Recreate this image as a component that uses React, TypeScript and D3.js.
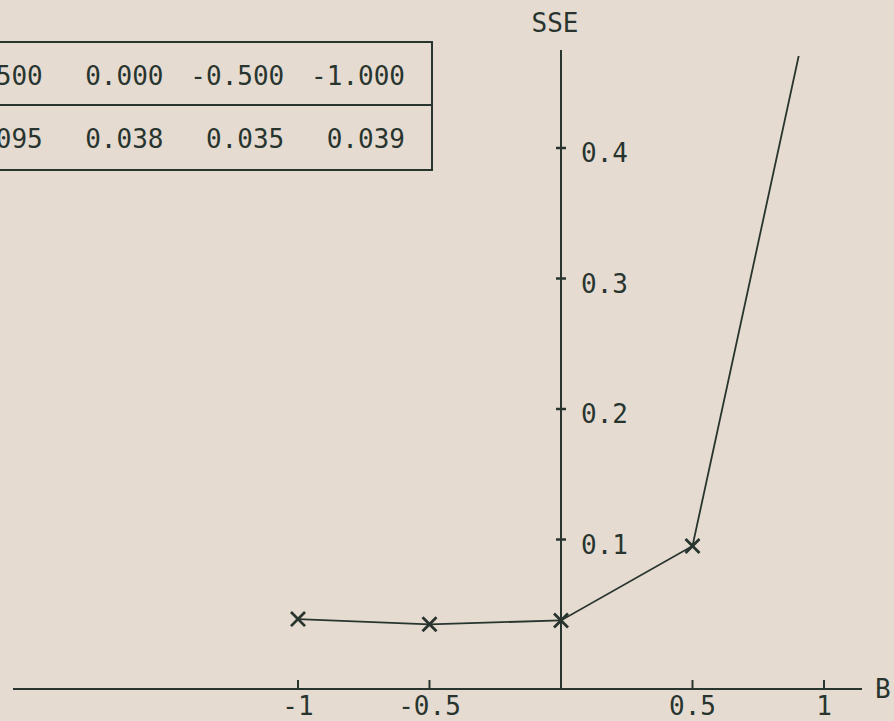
import * as d3 from "d3";

const B_VALUES = [1.0, 0.5, 0.0, -0.5, -1.0];
const SSE_VALUES = [0.56, 0.095, 0.038, 0.035, 0.039];
const X_TICKS = [-1, -0.5, 0.5, 1];
const Y_TICKS = [0.1, 0.2, 0.3, 0.4];

const W = 894;
const H = 721;
const BG = "#e6dbd1";
const INK = "#28352f";
const FONT = "'DejaVu Sans Mono', monospace";
const FS = 26;

const AXIS_Y = 689; // x axis line
const AXIS_LEFT = 13;
const AXIS_RIGHT = 862;
const Y_AXIS_TOP = 50;
const PLOT_TOP = 56; // curve leaves the frame here

// table frame
const TABLE = { top: 42, mid: 105, bottom: 170, right: 432 };

// plain hyphen instead of d3's unicode minus, like the typewriter output
const locale = d3.formatLocale({
  decimal: ".",
  thousands: ",",
  grouping: [3],
  currency: ["", ""],
  minus: "-",
});

export default function App() {
  const x = d3.scaleLinear().domain([-1, 1]).range([298, 824]);
  const y = d3.scaleLinear().domain([0, 0.4]).range([670, 148]);
  const col = d3
    .scalePoint<number>()
    .domain(d3.range(B_VALUES.length))
    .range([-78, 405]);

  const points = B_VALUES.map((b, i) => ({ b, sse: SSE_VALUES[i] }));
  const line = d3
    .line<{ b: number; sse: number }>()
    .x((d) => x(d.b))
    .y((d) => y(d.sse));
  const marker = d3.symbol(d3.symbolTimes, 130)();

  const x0 = x(0);
  const f3 = locale.format(".3f");
  const f1 = locale.format(".1f");
  const fx = locale.format("");

  return (
    <svg
      width={W}
      height={H}
      style={{ position: "absolute", left: 0, top: 0, display: "block" }}
    >
      <defs>
        <clipPath id="plot-clip">
          <rect x={0} y={PLOT_TOP} width={W} height={H - PLOT_TOP} />
        </clipPath>
      </defs>
      <rect width={W} height={H} fill={BG} />

      {/* value table, partly cut off at the left edge */}
      <g stroke={INK} strokeWidth={2}>
        <line x1={-10} x2={TABLE.right + 1} y1={TABLE.top} y2={TABLE.top} />
        <line x1={-10} x2={TABLE.right + 1} y1={TABLE.mid} y2={TABLE.mid} />
        <line x1={-10} x2={TABLE.right + 1} y1={TABLE.bottom} y2={TABLE.bottom} />
        <line x1={TABLE.right} x2={TABLE.right} y1={TABLE.top} y2={TABLE.bottom} />
      </g>
      <g fill={INK} fontFamily={FONT} fontSize={FS} textAnchor="end">
        {B_VALUES.map((b, i) => (
          <text key={`b${i}`} x={col(i)} y={85}>
            {f3(b)}
          </text>
        ))}
        {SSE_VALUES.map((s, i) => (
          <text key={`s${i}`} x={col(i)} y={148}>
            {f3(s)}
          </text>
        ))}
      </g>

      {/* x axis */}
      <line x1={AXIS_LEFT} x2={AXIS_RIGHT} y1={AXIS_Y} y2={AXIS_Y} stroke={INK} strokeWidth={2} />
      {X_TICKS.map((t) => (
        <g key={t}>
          <line x1={x(t)} x2={x(t)} y1={AXIS_Y - 9} y2={AXIS_Y} stroke={INK} strokeWidth={2} />
          <text
            x={x(t)}
            y={AXIS_Y + 26}
            textAnchor="middle"
            fill={INK}
            fontFamily={FONT}
            fontSize={FS}
          >
            {fx(t)}
          </text>
        </g>
      ))}
      <text x={AXIS_RIGHT + 13} y={AXIS_Y + 9} fill={INK} fontFamily={FONT} fontSize={FS}>
        B
      </text>

      {/* y axis */}
      <line x1={x0} x2={x0} y1={Y_AXIS_TOP} y2={AXIS_Y} stroke={INK} strokeWidth={2} />
      {Y_TICKS.map((t) => (
        <g key={t}>
          <line x1={x0 - 5} x2={x0 + 5} y1={y(t)} y2={y(t)} stroke={INK} strokeWidth={2.5} />
          <text x={x0 + 20} y={y(t) + 14} fill={INK} fontFamily={FONT} fontSize={FS}>
            {f1(t)}
          </text>
        </g>
      ))}
      <text x={x0 - 6} y={32} textAnchor="middle" fill={INK} fontFamily={FONT} fontSize={FS}>
        SSE
      </text>

      {/* SSE curve */}
      <g clipPath="url(#plot-clip)">
        <path d={line(points) ?? ""} fill="none" stroke={INK} strokeWidth={1.8} />
        {points.map((p, i) => (
          <path
            key={i}
            d={marker ?? ""}
            transform={`translate(${x(p.b)},${y(p.sse)})`}
            fill="none"
            stroke={INK}
            strokeWidth={2.8}
          />
        ))}
      </g>
    </svg>
  );
}
